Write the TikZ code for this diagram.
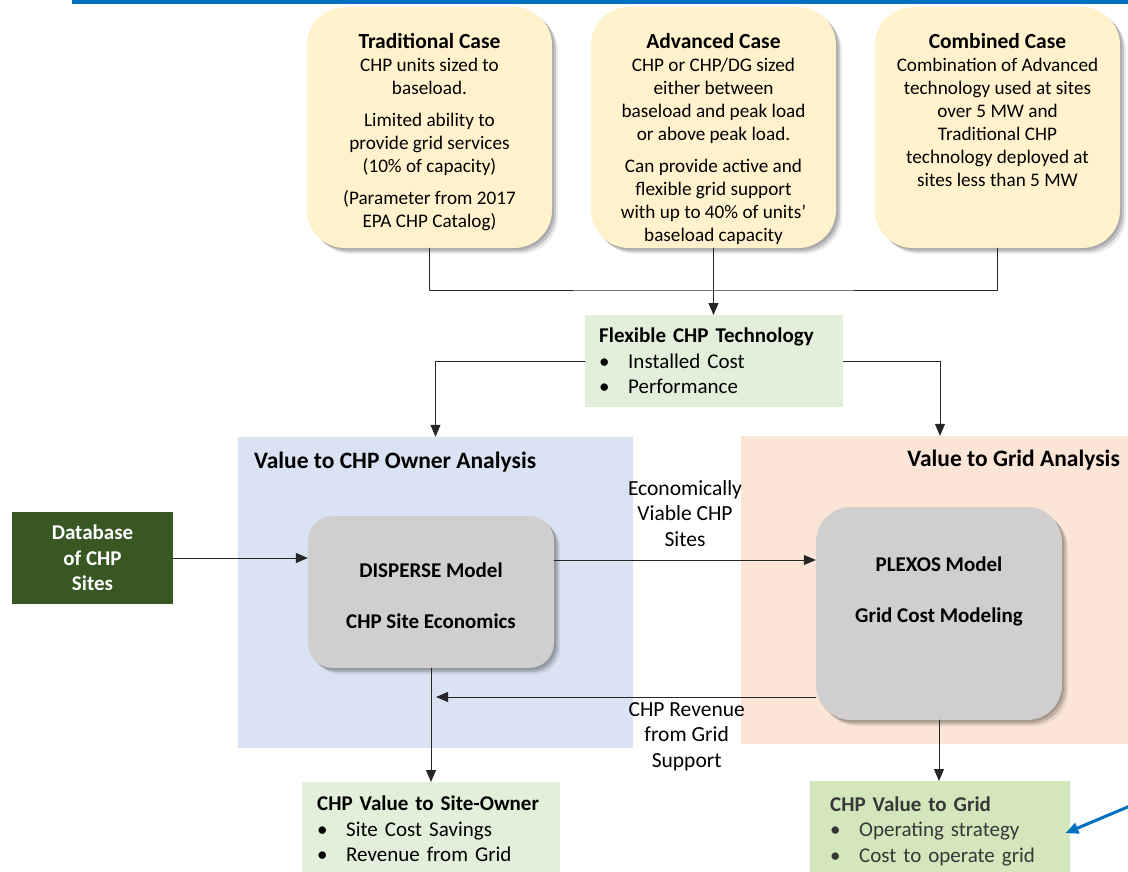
\documentclass[tikz,border=0pt]{standalone}
\usepackage{fontspec}
\setmainfont{Carlito}
\usepackage{tikz}
\usetikzlibrary{arrows.meta}
\usetikzlibrary{positioning}
\usetikzlibrary{shadows}

\definecolor{rulecol}{RGB}{0,112,192}
\definecolor{casefill}{RGB}{255,242,204}
\definecolor{techfill}{RGB}{226,239,218}
\definecolor{gridfill}{RGB}{211,230,188}
\definecolor{ownerbg}{RGB}{218,227,243}
\definecolor{gridbg}{RGB}{251,229,214}
\definecolor{modelfill}{RGB}{208,206,206}
\definecolor{dbfill}{RGB}{56,87,35}

\newcommand{\itm}{\makebox[29pt][l]{\textbullet}}
\newcommand{\casetitle}[1]{{\fontsize{21.5}{23}\selectfont\bfseries #1}}

\begin{document}
\begin{tikzpicture}[line cap=round,line join=round,>={Triangle[length=12pt,width=10pt]},x=1pt,y=-1pt,
  every node/.style={font=\fontsize{21}{23}\selectfont},
  link/.style={draw=black!85,line width=1pt},
  softshadow/.style={drop shadow={shadow xshift=2pt,shadow yshift=-2pt,opacity=0.15,fill=black},
    drop shadow={shadow xshift=4pt,shadow yshift=-4pt,opacity=0.15,fill=black},
    drop shadow={shadow xshift=6pt,shadow yshift=-6pt,opacity=0.08,fill=black}},
  casebox/.style={fill=casefill,rounded corners=38pt,minimum width=245pt,minimum height=241pt,inner sep=0pt,softshadow,
    font=\fontsize{19.2}{23}\selectfont},
  modelbox/.style={fill=modelfill,minimum width=246pt,inner sep=0pt,align=center,softshadow,
    font=\fontsize{21}{23}\selectfont\bfseries},
  listbox/.style={fill=techfill,align=left,inner ysep=0pt,minimum height=92pt,
    font=\fontsize{21}{25.5}\selectfont},
  panel/.style={inner sep=0pt},
  paneltitle/.style={inner sep=0pt,font=\fontsize{23.5}{26}\selectfont\bfseries},
  flowlabel/.style={align=center,inner sep=0pt,font=\fontsize{21.5}{25.5}\selectfont}]
\useasboundingbox (0,0) rectangle (1128,872);

% top rule
\fill[rulecol] (72,0) rectangle (1128,4);

% the three cases
\node[casebox] (trad) at (429.5,127.5) {\parbox[c][189pt][t]{238pt}{\centering
  \casetitle{Traditional Case}\\CHP units sized to\\baseload.\par\vspace{9pt}
  Limited ability to\\provide grid services\\(10\% of capacity)\par\vspace{9pt}
  (Parameter from 2017\\EPA CHP Catalog)}};
\node[casebox] (adv) at (713.5,127.5) {\parbox[c][189pt][t]{238pt}{\centering
  \casetitle{Advanced Case}\\CHP or CHP/DG sized\\either between\\baseload and peak load\\or above peak load.\par\vspace{9pt}
  Can provide active and\\flexible grid support\\with up to 40\% of units’\\baseload capacity}};
\node[casebox] (comb) at (997.5,127.5) {\parbox[c][189pt][t]{238pt}{\centering
  \casetitle{Combined Case}\\Combination of Advanced\\technology used at sites\\over 5 MW and\\Traditional CHP\\technology deployed at\\sites less than 5 MW}};

% technology box
\node[listbox,anchor=north west,text width=230pt,inner xsep=14pt] (flex) at (585,315)
  {\textbf{Flexible CHP Technology}\\\itm Installed Cost\\\itm Performance};

\coordinate (join) at (713.5,290);
\draw[link] (trad.south) |- (join) -| (comb.south);
\draw[link,->] (adv.south) -- (flex.north -| adv.south);

% analysis panels
\node[panel,fill=ownerbg,minimum width=395pt,minimum height=311pt] (ownpan) at (435.5,592.5) {};
\node[panel,fill=gridbg,minimum width=387pt,minimum height=308pt] (gridpan) at (934.5,590) {};
\node[paneltitle,anchor=base west] (owntitle) at (254,468) {Value to CHP Owner Analysis};
\node[paneltitle,anchor=base east] (gridtitle) at (1120,466) {Value to Grid Analysis};

\draw[link,->] (flex.west) -| (ownpan.north);
\draw[link,->] (flex.east) -| ([xshift=5.5pt]gridpan.north);

% sites database
\node[fill=dbfill,text=white,minimum width=161pt,minimum height=92pt,inner sep=0pt,align=center,
  font=\fontsize{21}{25.5}\selectfont\bfseries] (db) at (92.5,558) {Database\\of CHP\\Sites};

% models
\node[modelbox,rounded corners=25pt,minimum height=152pt] (disperse) at (431,592)
  {\parbox[c][58pt][t]{230pt}{\centering DISPERSE Model\\[28pt]CHP Site Economics}};
\node[modelbox,rounded corners=35pt,minimum height=213pt] (plexos) at (939,613.5)
  {\parbox[c][114pt][t]{230pt}{\centering PLEXOS Model\\[28pt]Grid Cost Modeling}};

\draw[link,->] (db.east) -- (db.east -| disperse.west);
\draw[link,->] (disperse.east |- 0,560) -- node[flowlabel,above=13pt] (viable) {Economically\\Viable CHP\\Sites} (plexos.west |- 0,560);
\coordinate (revend) at (436,697);
\draw[link,->] (plexos.west |- revend) -- node[flowlabel,below=5pt,pos=0.34] (revenue) {CHP Revenue\\from Grid\\Support} (revend);

% value boxes
\node[listbox,anchor=north west,text width=228pt,inner xsep=15pt,minimum height=94pt] (ownval) at (302,782)
  {\textbf{CHP Value to Site-Owner}\\\itm Site Cost Savings\\\itm Revenue from Grid};
\node[listbox,fill=gridfill,text=black!78,anchor=north west,text width=220pt,inner xsep=20pt,minimum height=100pt] (gridval) at (810,781)
  {\textbf{CHP Value to Grid}\\\itm Operating strategy\\\itm Cost to operate grid};

\draw[link,->] (disperse.south) -- (disperse.south |- ownval.north);
\draw[link,->] (plexos.south) -- (plexos.south |- gridval.north);

% pointer from the right edge
\coordinate (pointer) at (1130,806);
\draw[rulecol,line width=3pt,-{Triangle[length=13pt,width=11pt]}] (pointer) -- ([xshift=-5pt,yshift=-2pt]gridval.east);
\end{tikzpicture}
\end{document}
